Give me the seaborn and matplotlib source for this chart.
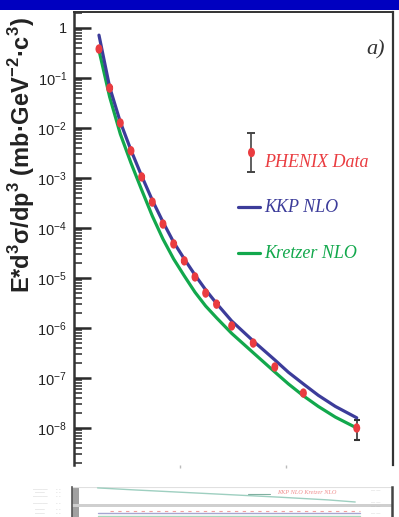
import numpy as np
import pandas as pd
import seaborn as sns
import matplotlib
matplotlib.use("Agg")
import matplotlib.pyplot as plt
from matplotlib.ticker import LogLocator, NullFormatter, FuncFormatter, FixedLocator
from matplotlib.markers import MarkerStyle
from matplotlib.transforms import Affine2D

# ---------------- data ----------------
pt = [1.22, 1.72, 2.22, 2.72, 3.22, 3.72, 4.22, 4.72, 5.22, 5.72, 6.22, 6.73,
      7.44, 8.45, 9.46, 10.8, 13.3]
phenix = [3.8e-1, 6.3e-2, 1.26e-2, 3.5e-3, 1.05e-3, 3.3e-4, 1.2e-4, 4.8e-5,
          2.2e-5, 1.05e-5, 5.0e-6, 3.0e-6, 1.1e-6, 5.0e-7, 1.66e-7, 5.0e-8, 1.0e-8]
phenix_err = [1.5e-2, 2.5e-3, 5.0e-4, 1.4e-4, 4.2e-5, 1.3e-5, 4.8e-6, 1.9e-6,
              8.8e-7, 4.2e-7, 2.0e-7, 1.2e-7, 4.4e-8, 2.0e-8, 7.0e-9, 2.5e-9, 4.25e-9]
pt_theory = [1.22, 1.72, 2.22, 2.72, 3.22, 3.72, 4.22, 4.72, 5.22, 5.72, 6.22, 6.73,
             7.44, 8.45, 9.46, 10.1, 10.8, 11.5, 12.3, 13.3]
kkp = [7.2e-1, 6.6e-2, 1.32e-2, 3.6e-3, 1.1e-3, 3.6e-4, 1.32e-4, 5.2e-5,
       2.4e-5, 1.15e-5, 5.8e-6, 3.1e-6, 1.38e-6, 5.5e-7, 2.3e-7, 1.3e-7, 7.6e-8,
       4.5e-8, 2.7e-8, 1.6e-8]
kretzer = [3.6e-1, 4.2e-2, 7.6e-3, 2.0e-3, 5.8e-4, 1.74e-4, 6.0e-5, 2.4e-5,
           1.1e-5, 5.2e-6, 2.75e-6, 1.6e-6, 7.8e-7, 3.2e-7, 1.32e-7, 7.6e-8, 4.4e-8,
           2.7e-8, 1.65e-8, 1.0e-8]
ytick_exps = [0, -1, -2, -3, -4, -5, -6, -7, -8]
xticks = [5, 10]
legend_labels = ["PHENIX Data", "KKP NLO", "Kretzer NLO"]
ylabel = "E*d$^{\\mathdefault{3}}$σ/dp$^{\\mathdefault{3}}$ (mb·GeV$^{\\mathdefault{-2}}$·c$^{\\mathdefault{3}}$)"
panel_label = "a)"

# decorative thumbnail strip at bottom (faint, as in reference)
strip_x = [0.08, 0.2, 0.35, 0.5, 0.65, 0.8, 0.885]
strip_y = [0.97, 0.9, 0.82, 0.74, 0.66, 0.57, 0.5]

BLUE = "#3c3c9a"
GREEN = "#12a84c"
RED = "#ea3c40"

sns.set_theme(style="white")
plt.rcParams["font.family"] = ["Liberation Sans", "DejaVu Sans"]

fig = plt.figure(figsize=(3.99, 5.17), dpi=100)
fig.patch.set_facecolor("white")

# blue banner at top
fig.patches.append(plt.Rectangle((0, 1 - 9.5 / 517), 1, 9.5 / 517, transform=fig.transFigure,
                                 facecolor="#0000c0", edgecolor="none", zorder=0))

ax = fig.add_axes([74 / 399, (517 - 465) / 517, 319 / 399, 452.5 / 517])

n = len(pt_theory)
df_th = pd.DataFrame({"pt": pt_theory * 2, "val": kkp + kretzer,
                      "model": ["KKP NLO"] * n + ["Kretzer NLO"] * n})
df_d = pd.DataFrame({"pt": pt, "val": phenix, "err": phenix_err})

ax.errorbar(df_d["pt"], df_d["val"], yerr=df_d["err"], fmt="none", ecolor="#333333",
            elinewidth=1.2, capsize=2.5, capthick=1.5, zorder=1)
sns.lineplot(data=df_th, x="pt", y="val", hue="model", hue_order=["Kretzer NLO", "KKP NLO"],
             palette={"KKP NLO": BLUE, "Kretzer NLO": GREEN}, linewidth=2.3,
             estimator=None, sort=True, legend=False, ax=ax, zorder=2)
dot = MarkerStyle("o", transform=Affine2D().scale(0.74, 1.0))
sns.scatterplot(data=df_d, x="pt", y="val", marker=dot, s=46, color=RED,
                edgecolor="none", linewidth=0, legend=False, ax=ax, zorder=3)

ax.set_yscale("log")
ax.set_ylim(10 ** -8.74, 10 ** 0.31)
ax.set_xlim(0.05, 15)
ax.set_xlabel("")
ax.set_ylabel("")

ax.yaxis.set_major_locator(FixedLocator([10.0 ** e for e in ytick_exps]))
ax.yaxis.set_major_formatter(FuncFormatter(
    lambda v, p: "1" if abs(v - 1) < 1e-9 else r"$\mathdefault{10^{%d}}$" % round(np.log10(v))))
ax.yaxis.set_minor_locator(LogLocator(base=10, subs=np.arange(2, 10), numticks=30))
ax.yaxis.set_minor_formatter(NullFormatter())
ax.tick_params(axis="y", which="major", direction="in", length=12, width=1.8,
               color="#2a2a2a", labelsize=10.5, pad=5, labelcolor="#222222", left=True)
ax.tick_params(axis="y", which="minor", direction="in", length=6, width=1.1,
               color="#2a2a2a", left=True)
ax.set_xticks(xticks)
ax.set_xticklabels(["", ""])
ax.tick_params(axis="x", which="both", direction="out", length=2, width=1,
               color="#bbbbbb", bottom=True)
ax.xaxis.set_minor_locator(plt.NullLocator())

for s in ["left", "top", "right"]:
    ax.spines[s].set_visible(True)
    ax.spines[s].set_color("#333333")
ax.spines["left"].set_linewidth(1.8)
ax.spines["top"].set_linewidth(1.4)
ax.spines["right"].set_linewidth(1.6)
ax.spines["bottom"].set_visible(False)

# manual legend
tr = ax.transAxes
ax.errorbar([0.555], [0.691], yerr=[[0.043], [0.043]], fmt="none", ecolor="#444444",
            elinewidth=1.2, capsize=3, capthick=1.4, transform=tr, zorder=4)
ax.scatter([0.555], [0.692], marker=dot, s=46, color=RED, linewidths=0, transform=tr, zorder=5)
ax.plot([0.515, 0.583], [0.570, 0.570], color=BLUE, lw=2.3, transform=tr)
ax.plot([0.515, 0.583], [0.469, 0.469], color=GREEN, lw=2.3, transform=tr)
leg_font = dict(family=["Liberation Serif", "DejaVu Serif"], style="italic", fontsize=13)
ax.text(0.597, 0.668, legend_labels[0], color=RED, va="center", ha="left", transform=tr, **leg_font)
ax.text(0.597, 0.568, legend_labels[1], color=BLUE, va="center", ha="left", transform=tr, **leg_font)
ax.text(0.597, 0.467, legend_labels[2], color=GREEN, va="center", ha="left", transform=tr, **leg_font)

ax.text(0.944, 0.917, panel_label, color="#333333", va="center", ha="center", transform=tr,
        family=["Liberation Serif", "DejaVu Serif"], style="italic", fontsize=16)

fig.text(22 / 399, 1 - 155 / 517, ylabel, rotation=90, ha="center", va="center",
         fontsize=17, fontweight="bold", color="#222222",
         family=["Liberation Sans", "DejaVu Sans"])

# faint thumbnail strip at the bottom
ax2 = fig.add_axes([72 / 399, 0, 320 / 399, 30 / 517])
ax2.set_xlim(0, 1)
ax2.set_ylim(0, 1)
ax2.set_xticks([])
ax2.set_yticks([])
ax2.set_facecolor("white")
for s in ["top", "bottom"]:
    ax2.spines[s].set_visible(False)
ax2.spines["left"].set_color("#555555")
ax2.spines["left"].set_linewidth(1.2)
ax2.spines["right"].set_color("#444444")
ax2.spines["right"].set_linewidth(1.8)
ax2.axhline(0.985, color="#e0e0e0", lw=0.8)
ax2.axvspan(0, 0.022, color="#8a8a8a", alpha=0.8, lw=0)
ax2.axhspan(0.33, 0.43, color="#cfcfcf", lw=0)
ax2.plot(strip_x, strip_y, color="#9ecfc0", lw=1.0)
ax2.plot([0.12, 0.9], [0.2, 0.2], color="#f0a0a0", lw=0.8, ls=(0, (3, 4)))
ax2.plot([0.08, 0.9], [0.12, 0.12], color="#8080c0", lw=1.0, alpha=0.7)
ax2.plot([0.08, 0.9], [0.03, 0.03], color="#80c8a0", lw=1.0, alpha=0.7)
ax2.plot([0.55, 0.62], [0.78, 0.78], color="#80b0a0", lw=0.8)
ax2.text(0.64, 0.8, "KKP NLO Kretzer NLO", color="#f09090", fontsize=4.5, style="italic",
         va="center", family=["Liberation Serif", "DejaVu Serif"])
for yy in [0.9, 0.5, 0.38, 0.12]:
    ax2.text(0.965, yy, "— —", color="#bbbbbb", fontsize=3, va="center", ha="right")

for yy, txt in [(0.92, "———"), (0.8, "——"), (0.68, "———"), (0.45, "———"), (0.25, "——"), (0.12, "——")]:
    fig.text(40 / 399, yy * 30 / 517, txt, color="#c8c8c8", fontsize=3.5, ha="center", va="center")
    fig.text(58 / 399, yy * 30 / 517, "- -", color="#c8c8c8", fontsize=3.5, ha="center", va="center")

fig.savefig("out.png", dpi=100)
